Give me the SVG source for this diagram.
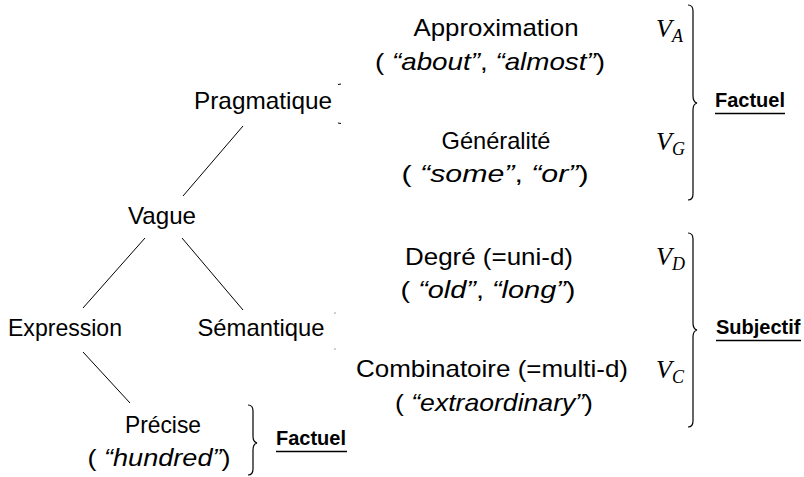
<svg xmlns="http://www.w3.org/2000/svg" width="804" height="477" viewBox="0 0 804 477">
<style>
text{font-family:"Liberation Sans",Arial,sans-serif;font-size:24px;fill:#000}
.c{text-anchor:middle}
.i{font-style:italic}
.m{font-family:"Liberation Serif","Times New Roman",serif;font-style:italic;font-size:26px}
.s{font-size:18px}
.b{font-weight:bold;font-size:20px}
.ln{stroke:#000;stroke-width:1;fill:none}
.ul{stroke:#000;stroke-width:1.5;fill:none}
.br{stroke:#000;stroke-width:1.2;fill:none}
</style>
<rect width="804" height="477" fill="#fff"/>
<g id="connectors">
<line class="ln" x1="183" y1="196" x2="243" y2="126"/>
<line class="ln" x1="145" y1="238" x2="83" y2="308"/>
<line class="ln" x1="182" y1="238" x2="243" y2="310"/>
<line class="ln" x1="83" y1="352" x2="130" y2="403"/>
<line class="ln" x1="338" y1="84.5" x2="341" y2="84"/>
<line class="ln" x1="338" y1="123" x2="341" y2="123.5"/>
<rect x="334.5" y="312.5" width="1" height="1" fill="#444"/>
<rect x="334.5" y="348.5" width="1" height="1" fill="#444"/>
</g>
<g id="pragmatique"><text class="c" x="263" y="109" textLength="138" lengthAdjust="spacingAndGlyphs">Pragmatique</text></g>
<g id="vague"><text class="c" x="162" y="224" textLength="68" lengthAdjust="spacingAndGlyphs">Vague</text></g>
<g id="expression"><text class="c" x="65" y="336" textLength="114" lengthAdjust="spacingAndGlyphs">Expression</text></g>
<g id="semantique"><text class="c" x="261" y="336" textLength="127" lengthAdjust="spacingAndGlyphs">Sémantique</text></g>
<g id="precise">
<text class="c" x="163" y="433" textLength="76" lengthAdjust="spacingAndGlyphs">Précise</text>
<text class="c" x="159" y="466" textLength="143" lengthAdjust="spacingAndGlyphs">( <tspan class="i">“hundred”</tspan>)</text>
</g>
<g id="approximation">
<text class="c" x="496" y="36" textLength="165" lengthAdjust="spacingAndGlyphs">Approximation</text>
<text class="c" x="490" y="70" textLength="230" lengthAdjust="spacingAndGlyphs">( <tspan class="i">“about”</tspan>, <tspan class="i">“almost”</tspan>)</text>
<text class="m" x="656" y="37">V<tspan class="s" dy="5">A</tspan></text>
</g>
<g id="generalite">
<text class="c" x="496" y="149" textLength="109" lengthAdjust="spacingAndGlyphs">Généralité</text>
<text class="c" x="495" y="182" textLength="187" lengthAdjust="spacingAndGlyphs">( <tspan class="i">“some”</tspan>, <tspan class="i">“or”</tspan>)</text>
<text class="m" x="656" y="150">V<tspan class="s" dy="5">G</tspan></text>
</g>
<g id="degre">
<text class="c" x="489" y="265" textLength="168" lengthAdjust="spacingAndGlyphs">Degré (=uni-d)</text>
<text class="c" x="488" y="298" textLength="175" lengthAdjust="spacingAndGlyphs">( <tspan class="i">“old”</tspan>, <tspan class="i">“long”</tspan>)</text>
<text class="m" x="656" y="265">V<tspan class="s" dy="5">D</tspan></text>
</g>
<g id="combinatoire">
<text class="c" x="492" y="377" textLength="272" lengthAdjust="spacingAndGlyphs">Combinatoire (=multi-d)</text>
<text class="c" x="494" y="411" textLength="198" lengthAdjust="spacingAndGlyphs">( <tspan class="i">“extraordinary”</tspan>)</text>
<text class="m" x="656" y="378">V<tspan class="s" dy="5">C</tspan></text>
</g>
<g id="factuel-top">
<path class="br" d="M688,5 Q693,5 693,11 L693,96 Q693,102 697,103 Q693,104 693,110 L693,194 Q693,200 688,200"/>
<text class="b" x="715" y="107">Factuel</text>
<line class="ul" x1="715" y1="113.5" x2="785" y2="113.5"/>
</g>
<g id="subjectif">
<path class="br" d="M688,233 Q693,233 693,239 L693,323 Q693,329 697,330 Q693,331 693,337 L693,421 Q693,427 688,427"/>
<text class="b" x="716" y="334">Subjectif</text>
<line class="ul" x1="716" y1="340.5" x2="801" y2="340.5"/>
</g>
<g id="factuel-bottom">
<path class="br" d="M248,405 Q253,405 253,411 L253,436 Q253,442 257,443 Q253,444 253,450 L253,469 Q253,475 248,475"/>
<text class="b" x="276" y="445">Factuel</text>
<line class="ul" x1="276" y1="451.5" x2="347" y2="451.5"/>
</g>
</svg>
